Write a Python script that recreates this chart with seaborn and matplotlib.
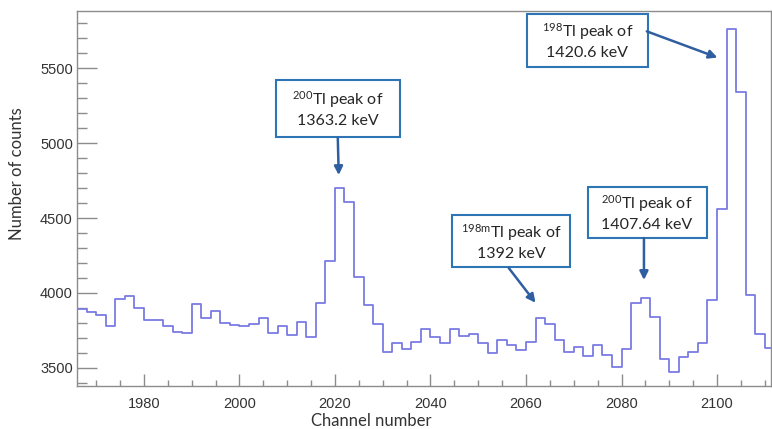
import numpy as np
import pandas as pd
import matplotlib
matplotlib.use('Agg')
import matplotlib.pyplot as plt
import matplotlib.ticker as ticker
from matplotlib.patches import Rectangle
import seaborn as sns

# bin lower edges (channel) and counts
channels = np.arange(1966, 2112, 2)
counts = [3890, 3870, 3850, 3780, 3960, 3980, 3900, 3820, 3820, 3780,
          3740, 3730, 3925, 3834, 3877, 3800, 3788, 3782, 3793, 3833,
          3732, 3776, 3722, 3805, 3707, 3930, 4213, 4698, 4609, 4108,
          3921, 3792, 3605, 3663, 3623, 3674, 3756, 3705, 3665, 3757,
          3714, 3726, 3668, 3598, 3682, 3650, 3620, 3673, 3834, 3795,
          3685, 3605, 3640, 3578, 3652, 3584, 3505, 3625, 3932, 3963,
          3841, 3557, 3472, 3575, 3605, 3662, 3952, 4560, 5760, 5345,
          3988, 3727, 3635]

# peak labels: text, box (x0, x1, y0, y1), arrow start, arrow tip
peak_labels = ['$^{200}$Tl peak of\n1363.2 keV',
               '$^{198m}$Tl peak of\n1392 keV',
               '$^{200}$Tl peak of\n1407.64 keV',
               '$^{198}$Tl peak of\n1420.6 keV']
peak_boxes = [(2007.6, 2033.6, 5041, 5422),
              (2044.5, 2069.3, 4172, 4519),
              (2072.9, 2097.8, 4366, 4706),
              (2060.2, 2085.5, 5509, 5863)]
arrow_from = [(2020.6, 5035), (2056.4, 4166), (2084.7, 4366), (2085.3, 5747)]
arrow_to = [(2020.8, 4787), (2062.0, 3934), (2084.7, 4086), (2100.1, 5572)]

sns.set_style('ticks')
plt.rcParams['font.family'] = ['Liberation Sans', 'DejaVu Sans']
plt.rcParams['mathtext.default'] = 'regular'

df = pd.DataFrame({'channel': channels, 'counts': counts})

fig = plt.figure(figsize=(7.72, 4.29), dpi=100)
ax = fig.add_axes([77 / 772, 43 / 429, 694 / 772, 375 / 429])

sns.histplot(data=df, x='channel', weights='counts', binwidth=2, binrange=(1966, 2112),
             element='step', fill=False, color='#7b7be4', linewidth=1.3, ax=ax)

ax.set_xlim(1966, 2111.3)
ax.set_ylim(3378, 5883)

ax.xaxis.set_major_locator(ticker.MultipleLocator(20))
ax.xaxis.set_minor_locator(ticker.MultipleLocator(5))
ax.yaxis.set_major_locator(ticker.MultipleLocator(500))
ax.yaxis.set_minor_locator(ticker.MultipleLocator(100))

gray = '#8c8c8c'
ax.tick_params(axis='both', which='both', direction='in', color=gray,
               width=1, labelsize=10.5, labelcolor='#333333')
ax.tick_params(axis='y', which='major', length=14.4, pad=3)
ax.tick_params(axis='y', which='minor', length=7.2)
ax.tick_params(axis='x', which='major', length=8.6, pad=8)
ax.tick_params(axis='x', which='minor', length=4.3)
for s in ax.spines.values():
    s.set_visible(True)
    s.set_color(gray)
    s.set_linewidth(1)

ax.set_xlabel('Channel number', family='Lato', fontsize=12, color='#333333')
ax.set_ylabel('Number of counts', family='Lato', fontsize=12, color='#333333')
ax.xaxis.set_label_coords(0.424, -0.071)
ax.yaxis.set_label_coords(-0.075, 0.565)

for lab, (x0, x1, y0, y1), p0, p1 in zip(peak_labels, peak_boxes, arrow_from, arrow_to):
    ax.add_patch(Rectangle((x0, y0), x1 - x0, y1 - y0, facecolor='white',
                           edgecolor='#2e75b6', linewidth=1.5, zorder=4, clip_on=False))
    ax.text((x0 + x1) / 2, (y0 + y1) / 2, lab, ha='center', va='center',
            family='Lato', fontsize=11.5, color='#262626', linespacing=1.35, zorder=5)
    ax.annotate('', xy=p1, xytext=p0,
                arrowprops=dict(arrowstyle='-|>,head_length=0.5,head_width=0.25',
                                color='#2f5fa0', lw=1.8, shrinkA=0, shrinkB=0),
                zorder=5)

fig.savefig('out.png', dpi=100, facecolor='white')
